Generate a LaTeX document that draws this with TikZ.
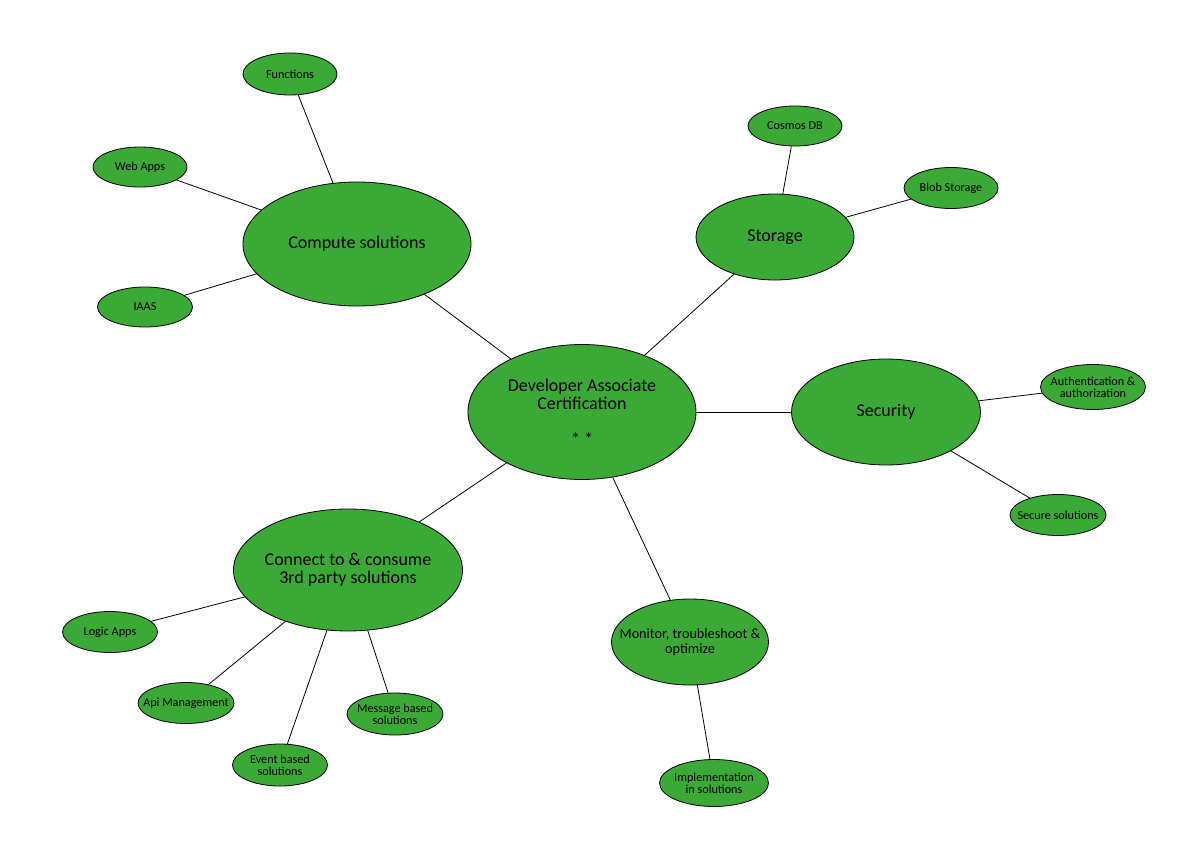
\documentclass[tikz,border=0pt]{standalone}
\usepackage{fontspec}
\setmainfont{Carlito}
\usetikzlibrary{shapes.geometric}
\definecolor{nodegreen}{RGB}{59,169,53}
\tikzset{
  bub/.style={ellipse, draw=black, line width=0.8pt, fill=nodegreen, inner sep=0pt},
  lbig/.style={align=center, inner sep=0pt, text=black, font=\fontsize{18}{18}\selectfont},
  lmon/.style={align=center, inner sep=0pt, text=black, font=\fontsize{14.2}{14.5}\selectfont},
  lsmall/.style={align=center, inner sep=0pt, text=black, font=\fontsize{12.2}{12}\selectfont},
  link/.style={draw=black, line width=0.8pt}
}
\begin{document}
\begin{tikzpicture}[x=1pt,y=-1pt]
\useasboundingbox (0,0) rectangle (1196,853);
% main
\node[bub, minimum width=228pt, minimum height=135pt, label={[lbig]center:Developer Associate\\Certification\\[4pt]\\[-4pt]* *}] (dev) at (582,412) {};
% second level
\node[bub, minimum width=228pt, minimum height=124pt, label={[lbig]center:Compute solutions}] (comp) at (357,244) {};
\node[bub, minimum width=158pt, minimum height=86pt, label={[lbig]center:Storage}] (stor) at (775,237) {};
\node[bub, minimum width=189pt, minimum height=106pt, label={[lbig]center:Security}] (sec) at (886,412) {};
\node[bub, minimum width=229pt, minimum height=122pt, label={[lbig]center:Connect to \& consume\\3rd party solutions}] (conn) at (348,570) {};
\node[bub, minimum width=157pt, minimum height=86pt, label={[lmon]center:Monitor, troubleshoot \&\\optimize}] (mon) at (690,642) {};
% leaves
\node[bub, minimum width=94pt, minimum height=42pt, label={[lsmall]center:Functions}] (func) at (290,74) {};
\node[bub, minimum width=94pt, minimum height=40pt, label={[lsmall]center:Web Apps}] (web) at (140,167) {};
\node[bub, minimum width=95pt, minimum height=40pt, label={[lsmall]center:IAAS}] (iaas) at (145,307) {};
\node[bub, minimum width=94pt, minimum height=40pt, label={[lsmall]center:Cosmos DB}] (cosmos) at (795,126) {};
\node[bub, minimum width=94pt, minimum height=41pt, label={[lsmall]center:Blob Storage}] (blob) at (951,188) {};
\node[bub, minimum width=105pt, minimum height=45pt, label={[lsmall]center:Authentication \&\\authorization}] (auth) at (1093,387) {};
\node[bub, minimum width=96pt, minimum height=41pt, label={[lsmall]center:Secure solutions}] (secs) at (1058,515) {};
\node[bub, minimum width=95pt, minimum height=41pt, label={[lsmall]center:Logic Apps}] (logic) at (110,632) {};
\node[bub, minimum width=96pt, minimum height=41pt, label={[lsmall]center:Api Management}] (api) at (186,703) {};
\node[bub, minimum width=95pt, minimum height=42pt, label={[lsmall]center:Event based\\solutions}] (event) at (280,765) {};
\node[bub, minimum width=96pt, minimum height=42pt, label={[lsmall]center:Message based\\solutions}] (msg) at (395,714) {};
\node[bub, minimum width=109pt, minimum height=47pt, label={[lsmall]center:Implementation\\in solutions}] (impl) at (714,783) {};
% connectors
\draw[link] (dev) -- (comp);
\draw[link] (dev) -- (stor);
\draw[link] (dev) -- (sec);
\draw[link] (dev) -- (conn);
\draw[link] (dev) -- (mon);
\draw[link] (comp) -- (func);
\draw[link] (comp) -- (web);
\draw[link] (comp) -- (iaas);
\draw[link] (stor) -- (cosmos);
\draw[link] (stor) -- (blob);
\draw[link] (sec) -- (auth);
\draw[link] (sec) -- (secs);
\draw[link] (conn) -- (logic);
\draw[link] (conn) -- (api);
\draw[link] (conn) -- (event);
\draw[link] (conn) -- (msg);
\draw[link] (mon) -- (impl);
\end{tikzpicture}
\end{document}
